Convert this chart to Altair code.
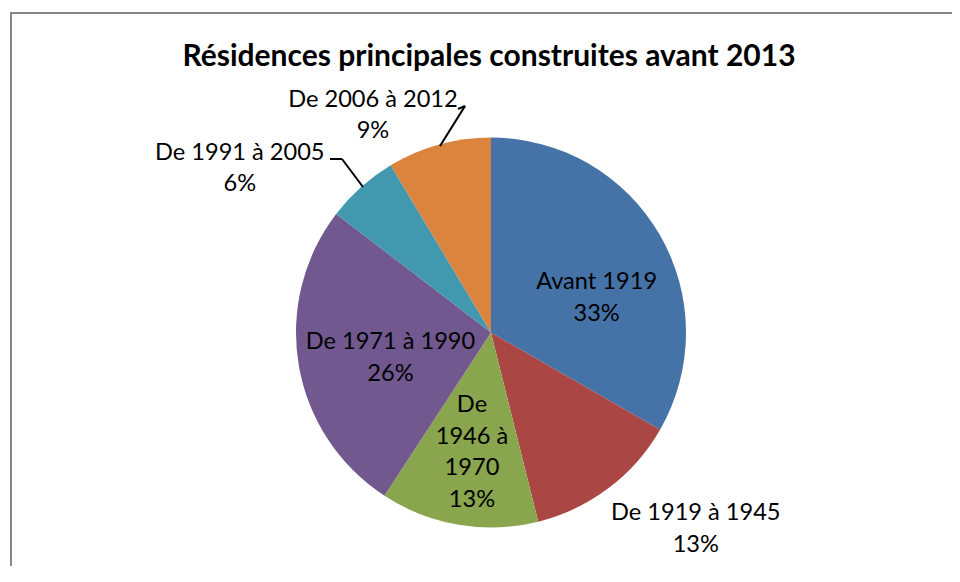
import math
import altair as alt
import pandas as pd

# ---- data ----
CATEGORIES = ["Avant 1919", "De 1919 à 1945", "De 1946 à 1970",
              "De 1971 à 1990", "De 1991 à 2005", "De 2006 à 2012"]
SHARES = [33.3, 12.8, 13.1, 26.2, 6.0, 8.6]
LABEL_TEXT = ["Avant 1919", "De 1919 à 1945", "De\n1946 à\n1970",
              "De 1971 à 1990", "De 1991 à 2005", "De 2006 à 2012"]
COLORS = ["#4572A7", "#AA4643", "#89A54E", "#71588F", "#4198AF", "#DB843D"]
TITLE = "Résidences principales construites avant 2013"

# ---- layout (label placement like Excel's best-fit; anchors the first line) ----
LABEL_RADIUS = [117, 273, 75, 101, 309, 261]
LABEL_SHIFT = [1.27, -3.2, 1.43, 1.2, -3.51, -3.17]   # along the circle, share units
PIE_RADIUS = 195
W, H = 700, 467
PAD = {"left": 133, "top": 91, "right": 111, "bottom": 0}
FONT = "Lato"
# leader lines (plot-area pixels)
LEADERS = [(189, 60, 201, 60), (201, 60, 222, 88),
           (317, 10, 324, 7), (324, 7, 299, 47)]
# chart frame as thin filled bands (left and top edges only, plot-area pixels)
FRAME = [(-131, -87, -129, H), (-131, -87, W + PAD["right"], -85)]

total = sum(SHARES)
df = pd.DataFrame({
    "order": list(range(len(CATEGORIES))),
    "category": CATEGORIES,
    "share": SHARES,
    "disp": LABEL_TEXT,
    "lr": LABEL_RADIUS,
    "shift": LABEL_SHIFT,
})

base = alt.Chart(df)

pie = base.mark_arc(radius=PIE_RADIUS, stroke=None).encode(
    theta=alt.Theta("share:Q", stack=True),
    order=alt.Order("order:Q"),
    color=alt.Color("category:N", scale=alt.Scale(domain=CATEGORIES, range=COLORS), legend=None),
)

labels = base.transform_joinaggregate(
    total="sum(share)"
).transform_window(
    cum="sum(share)", sort=[alt.SortField("order")]
).transform_calculate(
    mid="datum.cum - datum.share / 2 + datum.shift",
    pct="round(datum.share / datum.total * 100)",
).transform_calculate(
    label="datum.disp + '\\n' + datum.pct + '%'"
).mark_text(
    font=FONT, fontSize=23.6, color="#000000", align="center", baseline="middle",
    lineBreak="\n", lineHeight=31.5,
).encode(
    theta=alt.Theta("mid:Q", stack=None, scale=alt.Scale(domain=[0, total], range=[0, 2 * math.pi])),
    radius=alt.Radius("lr:Q", scale=None),
    text="label:N",
)

lead_df = pd.DataFrame(LEADERS, columns=["x", "y", "x2", "y2"])
leaders = alt.Chart(lead_df).mark_rule(color="#000000", strokeWidth=2).encode(
    x=alt.X("x:Q", scale=None), y=alt.Y("y:Q", scale=None),
    x2="x2:Q", y2="y2:Q",
)

frame_df = pd.DataFrame(FRAME, columns=["x", "y", "x2", "y2"])
frame = alt.Chart(frame_df).mark_rect(color="#868686", strokeWidth=0).encode(
    x=alt.X("x:Q", scale=None), y=alt.Y("y:Q", scale=None),
    x2="x2:Q", y2="y2:Q",
)

title = alt.Chart(pd.DataFrame({"t": [TITLE]})).mark_text(
    font=FONT, fontSize=30, fontWeight="bold", color="#000000",
    align="center", baseline="alphabetic",
).encode(x=alt.value(348), y=alt.value(-33), text="t:N")

chart = alt.layer(frame, pie, labels, leaders, title).resolve_scale(
    theta="independent"
).properties(
    width=W, height=H, padding=PAD, autosize=alt.AutoSizeParams(type="none"),
    background="white",
).configure_view(stroke=None)

chart.save("out.html", embed_options={"renderer": "svg", "actions": False})
